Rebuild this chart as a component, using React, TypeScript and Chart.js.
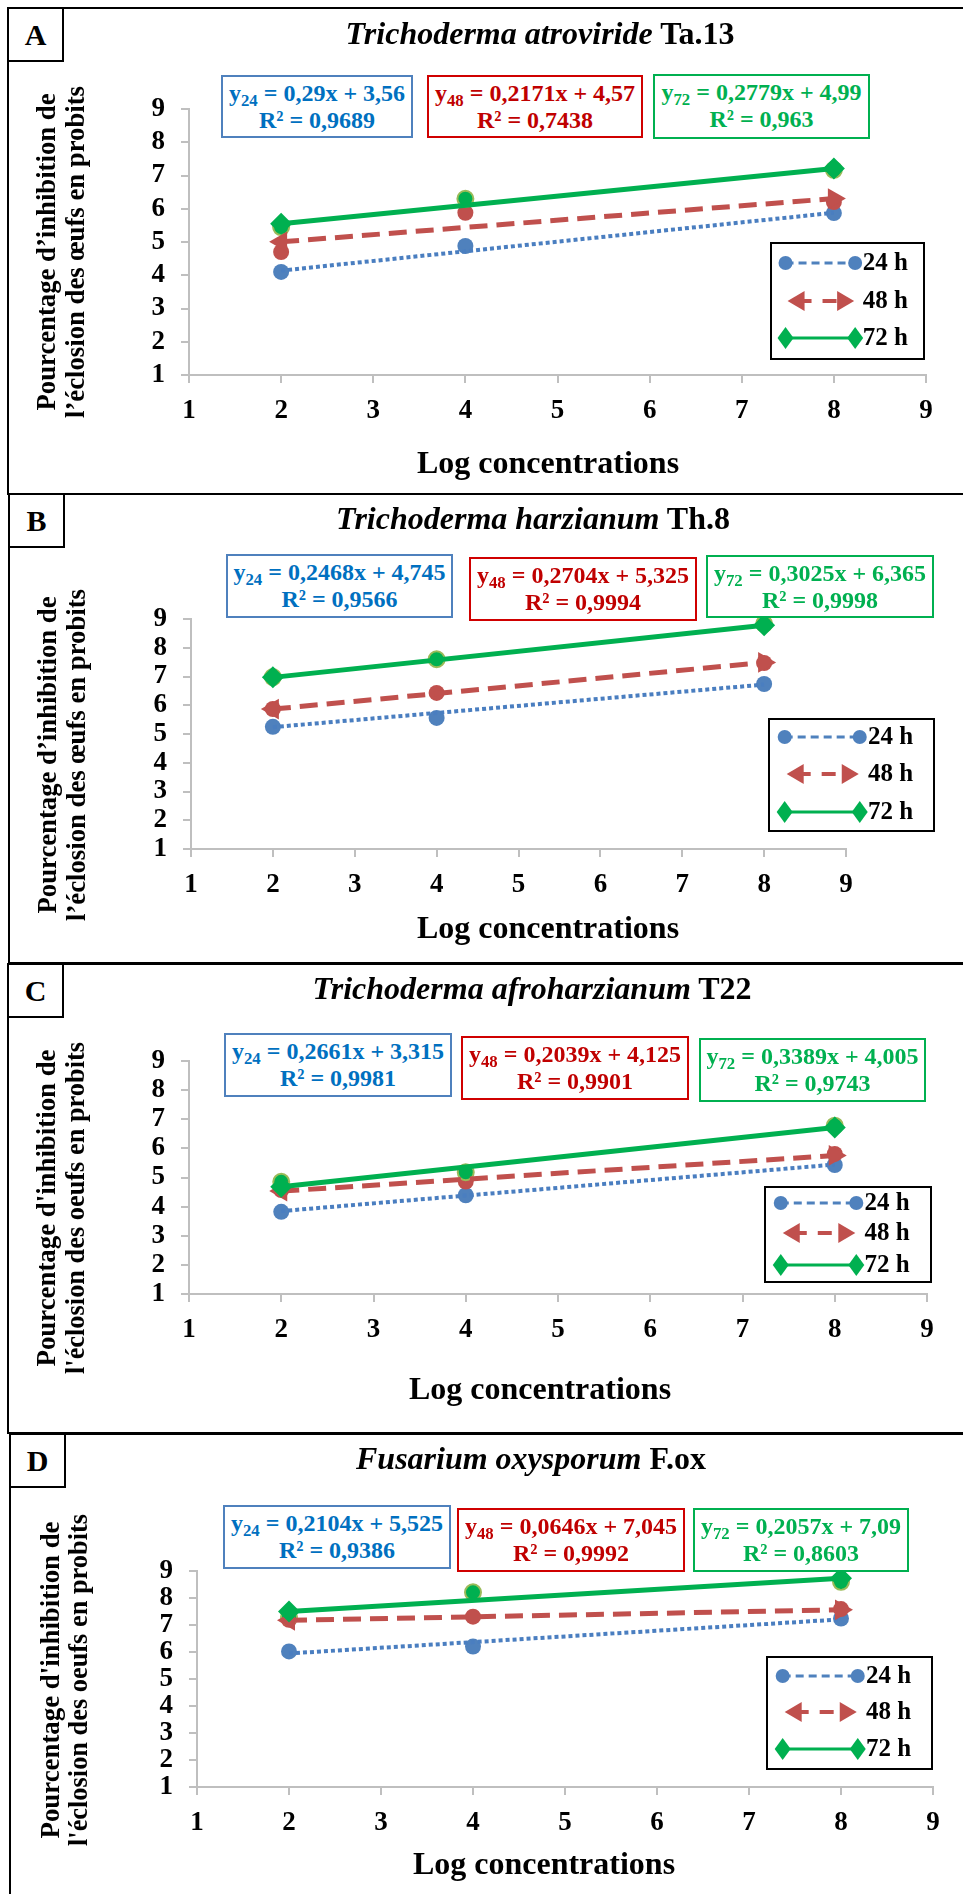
import React, { useEffect, useRef } from 'react';
import { Chart, registerables } from 'chart.js';
Chart.register(...registerables);

// ---------- data ----------
const logConc = [2, 4, 8];
const axisTicks = [1, 2, 3, 4, 5, 6, 7, 8, 9];
const seriesLabels = ['24 h', '48 h', '72 h'];
const hourSubs = ['24', '48', '72'];

// Panel A – Trichoderma atroviride Ta.13
const a24 = [4.1, 4.88, 5.87];
const a48 = [4.7, 5.88, 6.2];
const a72 = [5.45, 6.3, 7.17];
const aSlope = [0.29, 0.2171, 0.2779];
const aIntercept = [3.56, 4.57, 4.99];
const aR2 = [0.9689, 0.7438, 0.963];

// Panel B – Trichoderma harzianum Th.8
const b24 = [5.25, 5.56, 6.74];
const b48 = [5.87, 6.43, 7.47];
const b72 = [6.98, 7.6, 8.83];
const bSlope = [0.2468, 0.2704, 0.3025];
const bIntercept = [4.745, 5.325, 6.365];
const bR2 = [0.9566, 0.9994, 0.9998];

// Panel C – Trichoderma afroharzianum T22
const c24 = [3.82, 4.39, 5.43];
const c48 = [4.57, 4.86, 5.81];
const c72 = [4.85, 5.18, 6.78];
const cSlope = [0.2661, 0.2039, 0.3389];
const cIntercept = [3.315, 4.125, 4.005];
const cR2 = [0.9981, 0.9901, 0.9743];

// Panel D – Fusarium oxysporum F.ox
const d24 = [6.02, 6.2, 7.24];
const d48 = [7.19, 7.31, 7.59];
const d72 = [7.3, 8.21, 8.6];
const dSlope = [0.2104, 0.0646, 0.2057];
const dIntercept = [5.525, 7.045, 7.09];
const dR2 = [0.9386, 0.9992, 0.8603];

// ---------- styles / layout ----------
const SERIF = '"Liberation Serif", "Times New Roman", serif';
const POINT_COLORS = ['#4F81BD', '#C0504D', '#00B050'];
const POINT_BORDERS = ['#4F81BD', '#C0504D', '#9BBB59'];
const TREND_COLORS = ['#4A7EC0', '#C0504D', '#00B050'];
const TEXT_COLORS = ['#0070C0', '#C00000', '#00B050'];
const BOX_BORDERS = ['#4F81BD', '#D00000', '#00B050'];
const fmt = (v: number) => String(v).replace('.', ',');

const Y_W = 60;
const X_H = 50;

const PANELS = [
  {
    letter: 'A', genus: 'Trichoderma atroviride', strain: 'Ta.13',
    series: [a24, a48, a72], slopes: aSlope, intercepts: aIntercept, r2: aR2,
    yLines: ['Pourcentage d\u2019inhibition de', 'l\u2019\u00e9closion des \u0153ufs en probits'],
    left: 7, top: 7, height: 488,
    area: [189, 926, 109, 375], title: [540, 33], xTitle: [548, 462], yTitle: [48, 77, 252],
    boxes: [[221, 75, 192, 63], [427, 75, 216, 63], [653, 74, 217, 65]],
    legend: [771, 243, 153, 116], rows: [20, 58, 95],
  },
  {
    letter: 'B', genus: 'Trichoderma harzianum', strain: 'Th.8',
    series: [b24, b48, b72], slopes: bSlope, intercepts: bIntercept, r2: bR2,
    yLines: ['Pourcentage d\u2019inhibition de', 'l\u2019\u00e9closion des \u0153ufs en probits'],
    left: 8, top: 493, height: 471,
    area: [191, 846, 619, 849], title: [533, 518], xTitle: [548, 927], yTitle: [49, 78, 755],
    boxes: [[226, 554, 227, 64], [469, 557, 228, 64], [706, 555, 228, 63]],
    legend: [769, 719, 165, 112], rows: [18, 55, 93],
  },
  {
    letter: 'C', genus: 'Trichoderma afroharzianum', strain: 'T22',
    series: [c24, c48, c72], slopes: cSlope, intercepts: cIntercept, r2: cR2,
    yLines: ["Pourcentage d'inhibition de", "l'\u00e9closion des oeufs en probits"],
    left: 7, top: 963, height: 471,
    area: [189, 927, 1061, 1294], title: [532, 988], xTitle: [540, 1388], yTitle: [48, 77, 1208],
    boxes: [[224, 1033, 228, 64], [461, 1036, 228, 64], [699, 1038, 227, 64]],
    legend: [765, 1187, 166, 95], rows: [16, 46, 78],
  },
  {
    letter: 'D', genus: 'Fusarium oxysporum', strain: 'F.ox',
    series: [d24, d48, d72], slopes: dSlope, intercepts: dIntercept, r2: dR2,
    yLines: ["Pourcentage d'inhibition de", "l'\u00e9closion des oeufs en probits"],
    left: 9, top: 1433, height: 470,
    area: [197, 933, 1571, 1787], title: [531, 1458], xTitle: [544, 1863], yTitle: [52, 80, 1680],
    boxes: [[223, 1505, 228, 64], [457, 1508, 228, 64], [693, 1508, 216, 64]],
    legend: [767, 1657, 165, 112], rows: [19, 55, 92],
  },
];

type Panel = typeof PANELS[number];

function drawLegendMarker(ctx: CanvasRenderingContext2D, kind: number, x: number, y: number, dir: number) {
  ctx.fillStyle = POINT_COLORS[kind];
  ctx.beginPath();
  if (kind === 0) {
    ctx.arc(x, y, 7, 0, Math.PI * 2);
  } else if (kind === 1) {
    ctx.moveTo(x, y);
    ctx.lineTo(x - dir * 17, y - 10);
    ctx.lineTo(x - dir * 17, y + 10);
    ctx.closePath();
  } else {
    ctx.moveTo(x, y - 11);
    ctx.lineTo(x + 8, y);
    ctx.lineTo(x, y + 11);
    ctx.lineTo(x - 8, y);
    ctx.closePath();
  }
  ctx.fill();
}

function PanelChart({ p }: { p: Panel }) {
  const ref = useRef<HTMLCanvasElement>(null);
  useEffect(() => {
    const canvas = ref.current;
    if (!canvas) return;
    const [L, R, T, B] = p.area;
    const top = p.top;

    const customPlugin = {
      id: 'customDecor',
      afterDraw(chart: any) {
        const ctx: CanvasRenderingContext2D = chart.ctx;
        ctx.save();
        // Y axis title (two rotated lines)
        ctx.fillStyle = '#000';
        ctx.font = `bold 28px ${SERIF}`;
        ctx.textAlign = 'center';
        ctx.textBaseline = 'middle';
        const targetLens = [317, 332];
        p.yLines.forEach((line, i) => {
          const x = i === 0 ? p.yTitle[0] : p.yTitle[1];
          ctx.save();
          ctx.translate(x, p.yTitle[2] - top);
          ctx.rotate(-Math.PI / 2);
          const w = ctx.measureText(line).width;
          ctx.scale(targetLens[i] / w, 1);
          ctx.fillText(line, 0, 0);
          ctx.restore();
        });

        // Legend
        const [lx, ly, lw, lh] = p.legend;
        const y0 = ly - top;
        ctx.fillStyle = '#fff';
        ctx.fillRect(lx, y0, lw, lh);
        ctx.strokeStyle = '#000';
        ctx.lineWidth = 2;
        ctx.setLineDash([]);
        ctx.strokeRect(lx, y0, lw, lh);
        const m1 = lx + 0.095 * lw;
        const m2 = lx + 0.55 * lw;
        const tx = lx + 0.6 * lw;
        p.rows.forEach((ry, i) => {
          const y = y0 + ry;
          ctx.save();
          ctx.strokeStyle = POINT_COLORS[i];
          ctx.lineCap = 'butt';
          if (i === 0) {
            ctx.lineWidth = 3;
            ctx.setLineDash([8, 5]);
            ctx.beginPath(); ctx.moveTo(m1, y); ctx.lineTo(m2, y); ctx.stroke();
            ctx.setLineDash([]);
            drawLegendMarker(ctx, 0, m1, y, -1);
            drawLegendMarker(ctx, 0, m2, y, 1);
          } else if (i === 1) {
            ctx.lineWidth = 4;
            ctx.setLineDash([14, 11]);
            ctx.beginPath(); ctx.moveTo(m1 + 12, y); ctx.lineTo(m2 - 10, y); ctx.stroke();
            ctx.setLineDash([]);
            drawLegendMarker(ctx, 1, m1 + 2, y, -1);
            drawLegendMarker(ctx, 1, m2 - 1, y, 1);
          } else {
            ctx.lineWidth = 3;
            ctx.setLineDash([]);
            ctx.beginPath(); ctx.moveTo(m1, y); ctx.lineTo(m2, y); ctx.stroke();
            drawLegendMarker(ctx, 2, m1, y, -1);
            drawLegendMarker(ctx, 2, m2, y, 1);
          }
          ctx.restore();
          ctx.fillStyle = '#000';
          ctx.font = `bold 25px ${SERIF}`;
          ctx.textAlign = 'left';
          ctx.textBaseline = 'middle';
          ctx.fillText(seriesLabels[i], tx, y + 1);
        });
        ctx.restore();
      },
    };

    const x0 = logConc[0];
    const x1 = logConc[logConc.length - 1];
    const trendSets = [2, 1, 0].map((i) => {
      const s = p.slopes[i];
      const b = p.intercepts[i];
      const base: any = {
        label: seriesLabels[i] + ' trend',
        data: [{ x: x0, y: s * x0 + b }, { x: x1, y: s * x1 + b }],
        showLine: true,
        borderColor: TREND_COLORS[i],
        borderWidth: i === 0 ? 4 : 5,
        borderCapStyle: 'butt',
        clip: false,
        pointBorderWidth: 0,
        pointBackgroundColor: POINT_COLORS[i],
        pointBorderColor: POINT_COLORS[i],
      };
      if (i === 0) {
        base.borderDash = [4, 3];
        base.pointRadius = 0;
      } else if (i === 1) {
        base.borderDash = [18, 9];
        base.pointStyle = 'triangle';
        base.pointRadius = 12;
        base.pointRotation = [-90, 90];
      } else {
        base.pointStyle = 'rectRot';
        base.pointRadius = 11;
      }
      return base;
    });
    const dataSets = [2, 1, 0].map((i) => ({
      label: seriesLabels[i],
      data: logConc.map((x, k) => ({ x, y: p.series[i][k] })),
      showLine: false,
      clip: false,
      pointStyle: 'circle',
      pointRadius: 8,
      pointBackgroundColor: POINT_COLORS[i],
      pointBorderColor: POINT_BORDERS[i],
      pointBorderWidth: i === 2 ? 2 : 0,
    }));

    const tickFont = { family: SERIF, size: 27, weight: 'bold' as const };
    const chart = new Chart(canvas, {
      type: 'scatter',
      data: { datasets: [...trendSets, ...dataSets] },
      options: {
        animation: false,
        responsive: false,
        maintainAspectRatio: false,
        events: [],
        layout: {
          padding: {
            left: L - Y_W,
            right: 963 - R,
            top: T - top,
            bottom: top + p.height - B - X_H,
          },
        },
        plugins: {
          legend: { display: false },
          title: { display: false },
          tooltip: { enabled: false },
        },
        scales: {
          x: {
            type: 'linear',
            min: axisTicks[0],
            max: axisTicks[axisTicks.length - 1],
            afterFit: (s: any) => { s.height = X_H; },
            afterBuildTicks: (s: any) => { s.ticks = axisTicks.map((v) => ({ value: v })); },
            ticks: { font: tickFont, color: '#000', padding: 12, maxRotation: 0, autoSkip: false },
            grid: { drawOnChartArea: false, color: '#BFBFBF', lineWidth: 2, tickLength: 8, tickWidth: 2 },
            border: { color: '#BFBFBF', width: 2 },
          },
          y: {
            type: 'linear',
            min: axisTicks[0],
            max: axisTicks[axisTicks.length - 1],
            afterFit: (s: any) => { s.width = Y_W; },
            afterBuildTicks: (s: any) => { s.ticks = axisTicks.map((v) => ({ value: v })); },
            ticks: { font: tickFont, color: '#000', padding: 16, autoSkip: false },
            grid: { drawOnChartArea: false, color: '#BFBFBF', lineWidth: 2, tickLength: 8, tickWidth: 2 },
            border: { color: '#BFBFBF', width: 2 },
          },
        },
      } as any,
      plugins: [customPlugin],
    });
    return () => chart.destroy();
  }, [p]);
  return (
    <canvas
      ref={ref}
      width={963}
      height={p.height}
      style={{ position: 'absolute', left: 0, top: p.top, width: 963, height: p.height }}
    />
  );
}

function PanelOverlay({ p }: { p: Panel }) {
  return (
    <>
      <div
        style={{
          position: 'absolute', left: p.left, top: p.top, width: 57, height: 55,
          border: '2px solid #000', boxSizing: 'border-box', background: '#fff',
          font: `bold 30px ${SERIF}`, textAlign: 'center', lineHeight: '51px', color: '#000',
        }}
      >
        {p.letter}
      </div>
      <div
        style={{
          position: 'absolute', left: p.title[0] - 350, width: 700, top: p.title[1] - 19,
          textAlign: 'center', font: `bold 32px ${SERIF}`, lineHeight: '38px', color: '#000', whiteSpace: 'nowrap',
        }}
      >
        <i>{p.genus}</i> {p.strain}
      </div>
      <div
        style={{
          position: 'absolute', left: p.xTitle[0] - 250, width: 500, top: p.xTitle[1] - 19,
          textAlign: 'center', font: `bold 32px ${SERIF}`, lineHeight: '38px', color: '#000', whiteSpace: 'nowrap',
        }}
      >
        Log concentrations
      </div>
      {p.boxes.map((bx, i) => (
        <div
          key={i}
          style={{
            position: 'absolute', left: bx[0], top: bx[1], width: bx[2], height: bx[3],
            border: `2px solid ${BOX_BORDERS[i]}`, boxSizing: 'border-box', background: '#fff',
            color: TEXT_COLORS[i], font: `bold 24px ${SERIF}`, lineHeight: '27px',
            textAlign: 'center', paddingTop: 3, whiteSpace: 'nowrap',
          }}
        >
          <div>
            y<sub style={{ fontSize: '0.7em', lineHeight: 0, verticalAlign: '-0.3em' }}>{hourSubs[i]}</sub>
            {' = '}{fmt(p.slopes[i])}x + {fmt(p.intercepts[i])}
          </div>
          <div>R² = {fmt(p.r2[i])}</div>
        </div>
      ))}
    </>
  );
}

export default function App() {
  return (
    <div
      style={{
        position: 'absolute', left: 0, top: 0, width: 963, height: 1894,
        overflow: 'hidden', background: '#fff', fontFamily: SERIF,
      }}
    >
      {PANELS.map((p) => (
        <div
          key={'frame' + p.letter}
          style={{
            position: 'absolute', left: p.left, top: p.top, width: 1000, height: p.height,
            border: '2px solid #000', boxSizing: 'border-box', background: '#fff',
          }}
        />
      ))}
      {PANELS.map((p) => (
        <PanelChart key={'chart' + p.letter} p={p} />
      ))}
      {PANELS.map((p) => (
        <PanelOverlay key={'ov' + p.letter} p={p} />
      ))}
    </div>
  );
}
